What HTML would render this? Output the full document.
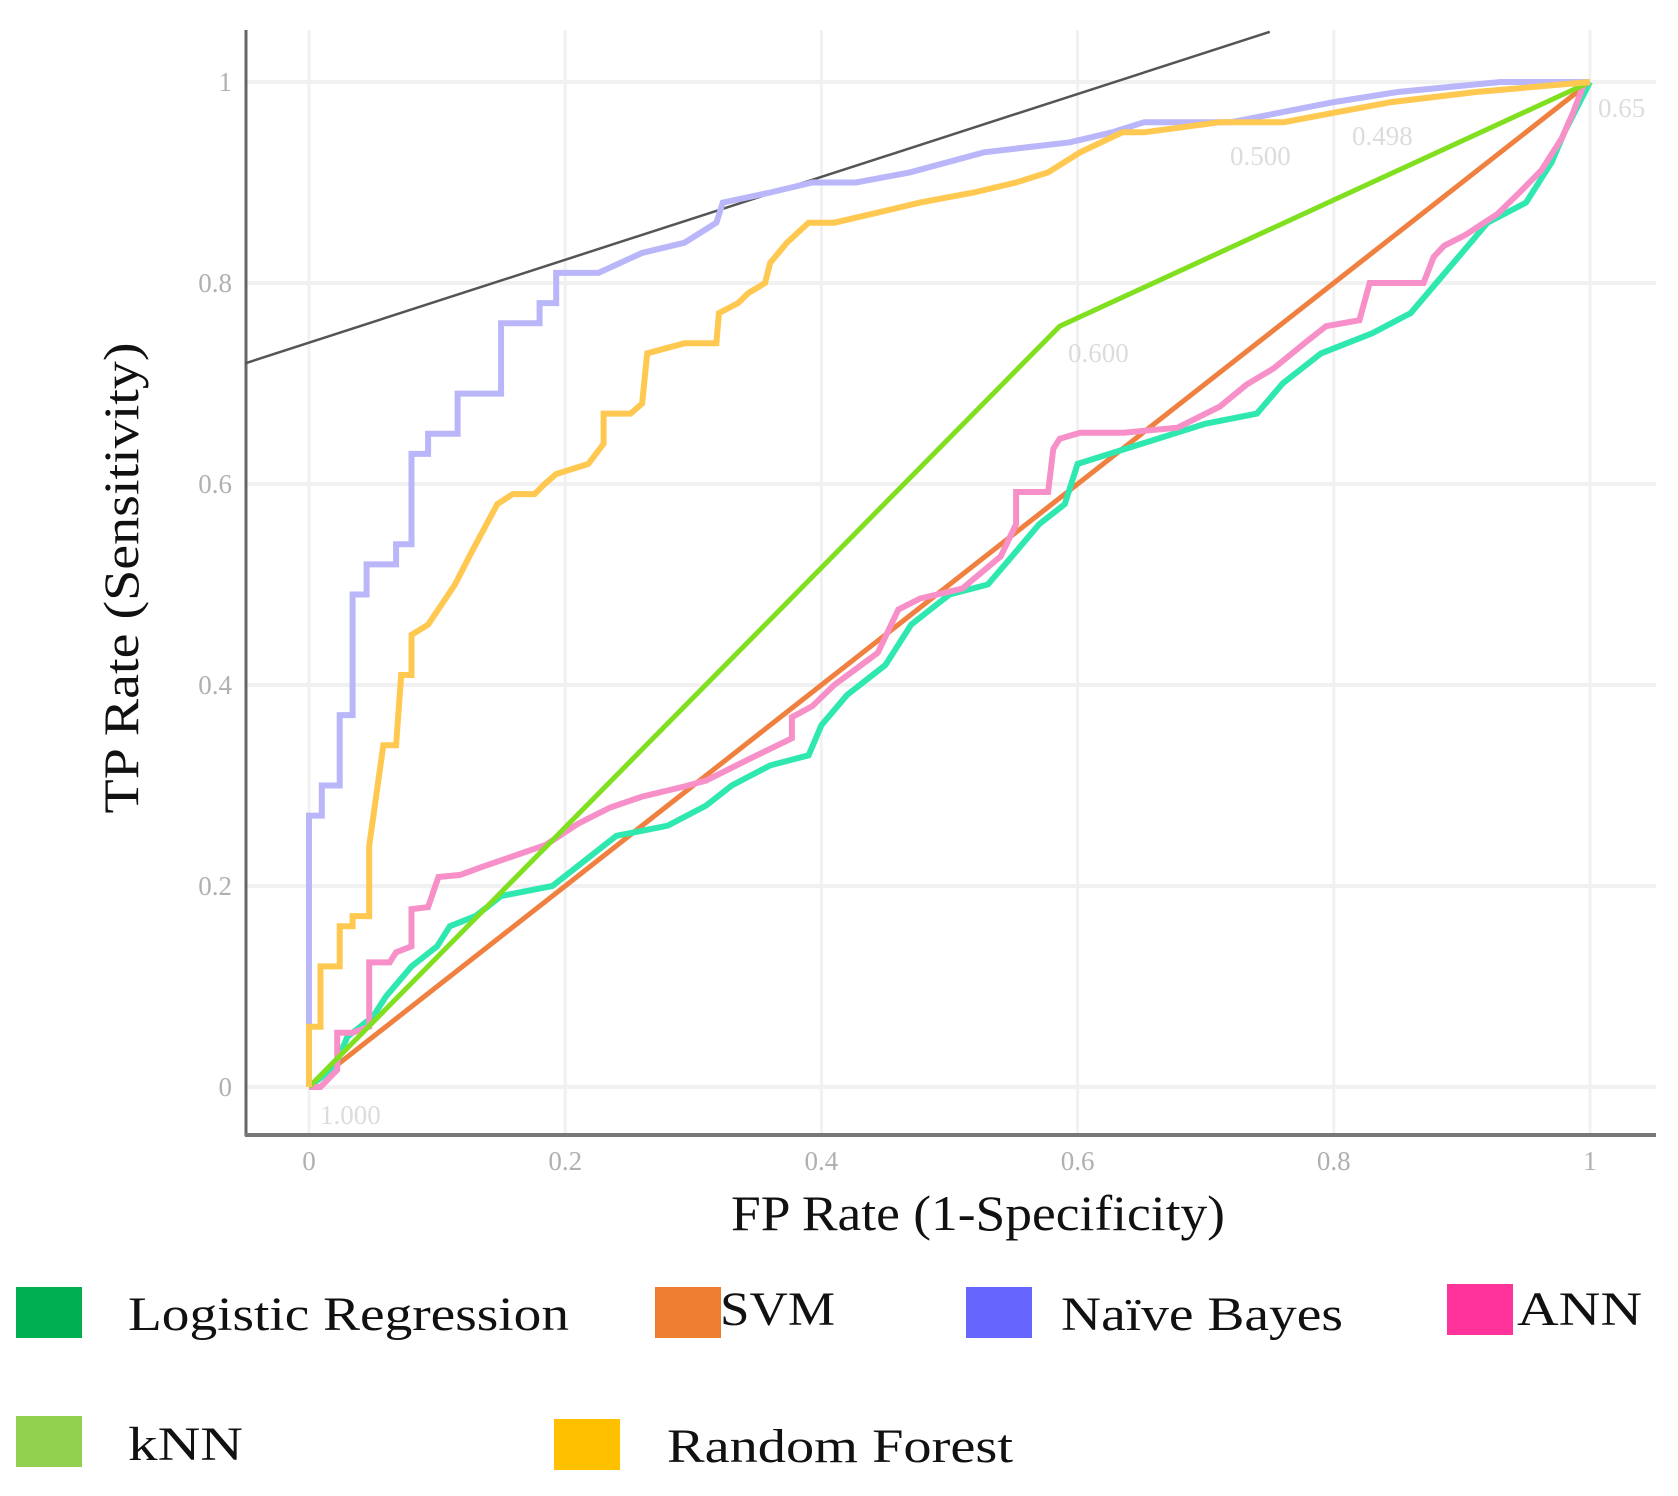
<!DOCTYPE html>
<html><head><meta charset="utf-8"><style>
html,body{margin:0;padding:0;background:#fff;}
svg{display:block;font-family:"Liberation Serif",serif;}
</style></head><body>
<svg id="chart" width="1678" height="1496" viewBox="0 0 1678 1496">
<g id="grid"></g>
<g id="axes"></g>
<g id="series"></g>
<g id="legend"></g>
</svg>
<script>
const xTicks = [0, 0.2, 0.4, 0.6, 0.8, 1];
const yTicks = [0, 0.2, 0.4, 0.6, 0.8, 1];
const xTickLabels = ["0", "0.2", "0.4", "0.6", "0.8", "1"];
const yTickLabels = ["0", "0.2", "0.4", "0.6", "0.8", "1"];
const seriesNames = ["Logistic Regression", "SVM", "Naïve Bayes", "ANN", "kNN", "Random Forest"];
const lrX = [0,0.02,0.03,0.05,0.06,0.08,0.10,0.11,0.13,0.15,0.19,0.2,0.22,0.24,0.28,0.31,0.33,0.36,0.39,0.4,0.42,0.45,0.47,0.5,0.53,0.55,0.57,0.59,0.6,0.65,0.7,0.74,0.76,0.79,0.83,0.86,0.88,0.9,0.92,0.95,0.97,0.98,1];
const lrY = [0,0.02,0.05,0.07,0.09,0.12,0.14,0.16,0.17,0.19,0.20,0.21,0.23,0.25,0.26,0.28,0.30,0.32,0.33,0.36,0.39,0.42,0.46,0.49,0.50,0.53,0.56,0.58,0.62,0.64,0.66,0.67,0.70,0.73,0.75,0.77,0.80,0.83,0.86,0.88,0.92,0.95,1];
const svmX = [0, 1];
const svmY = [0, 1];
const nbX = [0,0,0.01,0.01,0.024,0.024,0.034,0.034,0.045,0.045,0.068,0.068,0.08,0.08,0.093,0.093,0.116,0.116,0.15,0.15,0.18,0.18,0.193,0.193,0.226,0.26,0.293,0.318,0.323,0.36,0.393,0.427,0.469,0.527,0.594,0.627,0.652,0.72,0.8,0.85,0.93,1];
const nbY = [0,0.27,0.27,0.30,0.30,0.37,0.37,0.49,0.49,0.52,0.52,0.54,0.54,0.63,0.63,0.65,0.65,0.69,0.69,0.76,0.76,0.78,0.78,0.81,0.81,0.83,0.84,0.86,0.88,0.89,0.90,0.90,0.91,0.93,0.94,0.95,0.96,0.96,0.98,0.99,1.0,1];
const annX = [0,0.009,0.022,0.022,0.034,0.047,0.047,0.063,0.068,0.080,0.080,0.093,0.101,0.118,0.135,0.160,0.185,0.210,0.235,0.260,0.293,0.310,0.343,0.377,0.377,0.393,0.410,0.427,0.444,0.460,0.477,0.510,0.540,0.552,0.552,0.577,0.581,0.586,0.602,0.636,0.678,0.711,0.732,0.753,0.778,0.794,0.820,0.828,0.870,0.878,0.886,0.903,0.928,0.945,0.962,0.978,0.987,0.995,1];
const annY = [0,0,0.017,0.054,0.054,0.060,0.124,0.124,0.134,0.140,0.177,0.179,0.209,0.211,0.219,0.230,0.241,0.262,0.278,0.289,0.299,0.305,0.326,0.347,0.368,0.379,0.400,0.416,0.432,0.475,0.486,0.496,0.528,0.560,0.592,0.592,0.635,0.645,0.651,0.651,0.656,0.677,0.699,0.715,0.741,0.757,0.763,0.800,0.800,0.826,0.837,0.848,0.869,0.890,0.912,0.944,0.970,0.997,1];
const knnX = [0, 0.586, 1];
const knnY = [0, 0.757, 1];
const rfX = [0,0,0.009,0.009,0.024,0.024,0.034,0.034,0.047,0.047,0.058,0.068,0.072,0.080,0.080,0.093,0.114,0.126,0.147,0.159,0.176,0.184,0.193,0.218,0.23,0.23,0.251,0.26,0.264,0.293,0.318,0.32,0.335,0.343,0.356,0.36,0.373,0.39,0.41,0.444,0.477,0.519,0.552,0.577,0.602,0.635,0.652,0.711,0.761,0.803,0.845,0.911,1];
const rfY = [0,0.06,0.06,0.12,0.12,0.16,0.16,0.17,0.17,0.24,0.34,0.34,0.41,0.41,0.45,0.46,0.50,0.53,0.58,0.59,0.59,0.60,0.61,0.62,0.64,0.67,0.67,0.68,0.73,0.74,0.74,0.77,0.78,0.79,0.80,0.82,0.84,0.86,0.86,0.87,0.88,0.89,0.90,0.91,0.93,0.95,0.95,0.96,0.96,0.97,0.98,0.99,1];
const refLineX = [-0.05, 0.75];
const refLineY = [0.72, 1.05];

const NS = "http://www.w3.org/2000/svg";
const X0 = 309, XW = 1281, Y0 = 1087, YH = 1005;
function sx(v){ return X0 + v * XW; }
function sy(v){ return Y0 - v * YH; }
function mk(tag, attrs, parent){
  const e = document.createElementNS(NS, tag);
  for (const k in attrs) e.setAttribute(k, attrs[k]);
  parent.appendChild(e); return e;
}
const grid = document.getElementById("grid");
const axes = document.getElementById("axes");
const series = document.getElementById("series");
const legend = document.getElementById("legend");

xTicks.forEach((t, i) => {
  const l = mk("line", {x1: sx(t), x2: sx(t), y1: 30, y2: 1135, stroke: "#f1f1f1", "stroke-width": 3}, grid);
  
  
  const tx = mk("text", {x: sx(t), y: 1170, "text-anchor": "middle", "font-size": 27, fill: "#b0b0b0"}, axes);
  tx.textContent = xTickLabels[i];
  
  
});
yTicks.forEach((t, i) => {
  const l = mk("line", {x1: 246, x2: 1656, y1: sy(t), y2: sy(t), stroke: "#f1f1f1", "stroke-width": 4}, grid);
  
  
  const tx = mk("text", {x: 232, y: sy(t) + 9, "text-anchor": "end", "font-size": 27, fill: "#b0b0b0"}, axes);
  tx.textContent = yTickLabels[i];
  
  
});
const ya = mk("line", {x1: 246, x2: 246, y1: 30, y2: 1136, stroke: "#666", "stroke-width": 3}, axes);


const xa = mk("line", {x1: 245, x2: 1656, y1: 1135, y2: 1135, stroke: "#777", "stroke-width": 4}, axes);



const xt = mk("text", {x: 978, y: 1230, "text-anchor": "middle", "font-size": 50, fill: "#111", textLength: 494, lengthAdjust: "spacingAndGlyphs"}, axes);
xt.textContent = "FP Rate (1-Specificity)";


const yt = mk("text", {x: 0, y: 0, "text-anchor": "middle", "font-size": 50, fill: "#111", textLength: 471, lengthAdjust: "spacingAndGlyphs", transform: "translate(138,578) rotate(-90)"}, axes);
yt.textContent = "TP Rate  (Sensitivity)";



function pts(xs, ys){ return xs.map((x, i) => sx(x).toFixed(1) + "," + sy(ys[i]).toFixed(1)).join(" "); }
const ref = mk("polyline", {points: pts(refLineX, refLineY), fill: "none", stroke: "#555", "stroke-width": 2.5}, series);



const draws = [
  ["svm-curve", svmX, svmY, "#f08040", 5],
  ["logistic-regression-curve", lrX, lrY, "#2fe8b0", 6],
  ["ann-curve", annX, annY, "#f790c8", 6],
  ["knn-curve", knnX, knnY, "#80e020", 5],
  ["naive-bayes-curve", nbX, nbY, "#bab6fa", 6],
  ["random-forest-curve", rfX, rfY, "#ffc850", 6]
];
draws.forEach(d => {
  const p = mk("polyline", {points: pts(d[1], d[2]), fill: "none", stroke: d[3], "stroke-width": d[4], "stroke-linejoin": "miter"}, series);
  
  
});

const annots = [["1.000", 320, 1124], ["0.600", 1068, 362], ["0.500", 1230, 165], ["0.498", 1352, 145], ["0.65", 1598, 117]];
annots.forEach(a => {
  const t = mk("text", {x: a[1], y: a[2], "font-size": 27, fill: "#dcdcdc"}, series);
  t.textContent = a[0];
  
  
});

const legendColors = ["#00b050", "#ed7d31", "#6666ff", "#ff3399", "#92d050", "#ffc000"];
const legSq = [[16,1287],[655,1287],[966,1287],[1447,1284],[16,1416],[554,1419]];
const legTx = [[128,1330,441],[720,1325,115],[1061,1330,282],[1517,1325,125],[128,1460,115],[667,1462,346]];
seriesNames.forEach((n, i) => {
  const g = mk("g", {}, legend);
  
  
  const r = mk("rect", {x: legSq[i][0], y: legSq[i][1], width: 66, height: 51, fill: legendColors[i]}, g);
  
  
  const t = mk("text", {x: legTx[i][0], y: legTx[i][1], "font-size": 48, fill: "#111", textLength: legTx[i][2], lengthAdjust: "spacingAndGlyphs"}, g);
  t.textContent = n;
  
  
});
</script>
</body></html>
